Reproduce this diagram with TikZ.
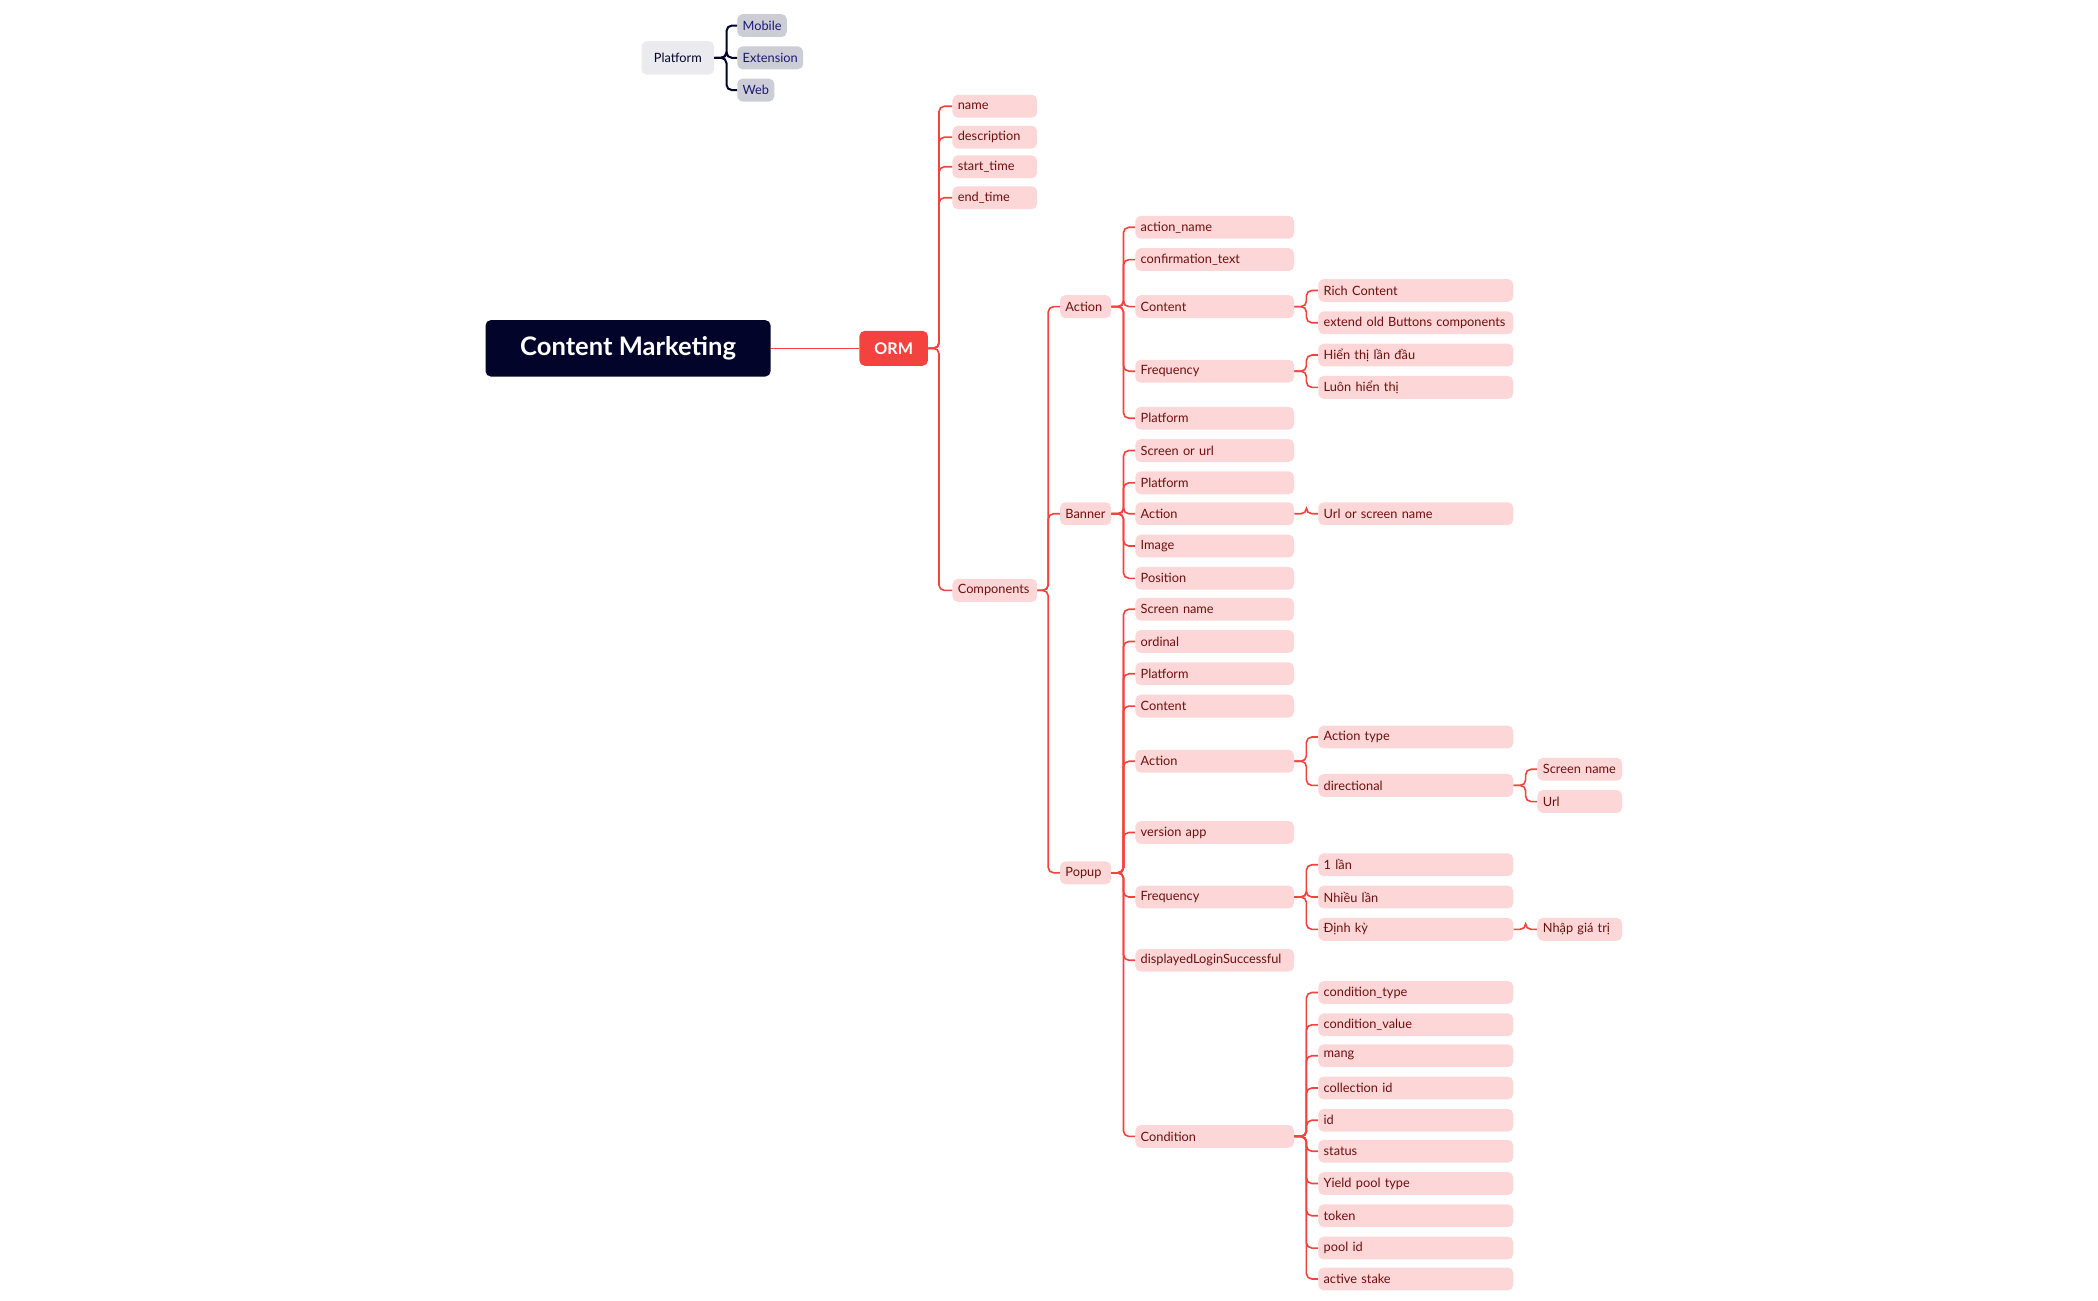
\documentclass[tikz,border=0pt]{standalone}
\usepackage{fontspec}
\setmainfont{Lato}
\definecolor{navy}{HTML}{02042A}
\definecolor{ormred}{HTML}{F4433F}
\definecolor{pinkfill}{HTML}{FDD7D7}
\definecolor{leaftext}{HTML}{6E0F0F}
\definecolor{greyfill}{HTML}{EBEAEE}
\definecolor{chipfill}{HTML}{CDCDD6}
\definecolor{chiptext}{HTML}{1A1870}
\tikzset{
  leaf/.style={fill=pinkfill, text=leaftext, rounded corners=4pt, anchor=west,
    inner xsep=4pt, inner ysep=0pt, minimum height=17pt, align=left,
    font=\fontsize{9.5}{11}\selectfont},
  lvla/.style={leaf, text width=55pt},
  lvlb/.style={leaf, text width=30pt},
  lvlc/.style={leaf, text width=110pt},
  lvld/.style={leaf, text width=137pt},
  lvle/.style={leaf, text width=55pt},
  link/.style={draw=ormred, line width=1.2pt, rounded corners=4pt},
  chip/.style={fill=chipfill, text=chiptext, rounded corners=4pt, anchor=west,
    inner xsep=4pt, inner ysep=0pt, minimum height=17pt, font=\fontsize{9.5}{11}\selectfont},
}
\newcommand\branch[3]{\draw[link] (#1.east) -- ++(#3,0) |- (#2.west);}
\begin{document}
\begin{tikzpicture}[x=1pt,y=-1pt]
\useasboundingbox (0,0) rectangle (1560,967);
% root and ORM
\node[fill=navy, text=white, rounded corners=4pt, minimum width=212pt, minimum height=42pt,
  font=\fontsize{19}{22}\bfseries\selectfont] (root) at (467,259) {Content Marketing};
\node[fill=ormred, text=white, rounded corners=4pt, minimum width=51pt, minimum height=26pt,
  font=\fontsize{12}{14}\bfseries\selectfont] (orm) at (664.5,259) {ORM};
\draw[link] (root.east) -- (orm.west);
% Platform legend
\node[fill=greyfill, text=navy, rounded corners=4pt, minimum width=54pt, minimum height=25pt,
  font=\fontsize{9.5}{11}\selectfont] (plat) at (504,43) {Platform};
\foreach \n/\y/\t in {mob/19/Mobile, ext/43/Extension, web/67/Web}{
  \node[chip] (\n) at (548,\y) {\t};
  \draw[draw=navy, line width=1.5pt, rounded corners=4pt] (plat.east) -- ++(9,0) |- (\n.west);
}
% ORM fields
\foreach \n/\y/\t in {fname/79/name, fdesc/102/description, fstart/124/start\_time,
  fend/147/end\_time, comp/439/Components}{
  \node[lvla] (\n) at (708,\y) {\t};
  \branch{orm}{\n}{8}
}
% components
\foreach \n/\y/\t in {act/228/Action, ban/382/Banner, pop/649/Popup}{
  \node[lvlb] (\n) at (788,\y) {\t};
  \branch{comp}{\n}{8}
}
% Action
\foreach \n/\y/\t in {aname/169/action\_name, aconf/193/confirmation\_text, acont/228/Content,
  afreq/276/Frequency, aplat/311/Platform}{
  \node[lvlc] (\n) at (844,\y) {\t};
  \branch{act}{\n}{9}
}
\foreach \n/\y/\t in {arich/216/Rich Content, aext/240/extend old Buttons components}{
  \node[lvld] (\n) at (980,\y) {\t};
  \branch{acont}{\n}{9}
}
\foreach \n/\y/\t in {afirst/264/Hiển thị lần đầu, aalw/288/Luôn hiển thị}{
  \node[lvld] (\n) at (980,\y) {\t};
  \branch{afreq}{\n}{9}
}
% Banner
\foreach \n/\y/\t in {bscr/335/Screen or url, bplat/359/Platform, bact/382/Action,
  bimg/406/Image, bpos/430/Position}{
  \node[lvlc] (\n) at (844,\y) {\t};
  \branch{ban}{\n}{9}
}
\node[lvld] (burl) at (980,382) {Url or screen name};
\branch{bact}{burl}{9}
% Popup
\foreach \n/\y/\t in {pscr/453/Screen name, pord/477/ordinal, pplat/501/Platform,
  pcont/525/Content, pact/566/Action, pver/619/version app, pfreq/667/Frequency,
  pdisp/714/displayedLoginSuccessful, pcond/845/Condition}{
  \node[lvlc] (\n) at (844,\y) {\t};
  \branch{pop}{\n}{9}
}
\foreach \n/\y/\t in {ptype/548/Action type, pdir/584/directional}{
  \node[lvld] (\n) at (980,\y) {\t};
  \branch{pact}{\n}{9}
}
\foreach \n/\y/\t in {dscr/572/Screen name, durl/596/Url}{
  \node[lvle] (\n) at (1143,\y) {\t};
  \branch{pdir}{\n}{9}
}
\foreach \n/\y/\t in {fone/643/1 lần, fmany/667/Nhiều lần, fper/691/Định kỳ}{
  \node[lvld] (\n) at (980,\y) {\t};
  \branch{pfreq}{\n}{9}
}
\node[lvle] (fval) at (1143,691) {Nhập giá trị};
\branch{fper}{fval}{9}
\foreach \n/\y/\t in {c1/738/condition\_type, c2/762/condition\_value, c3/785/mang,
  c4/809/collection id, c5/833/id, c6/856/status, c7/880/Yield pool type,
  c8/904/token, c9/928/pool id, c10/951/active stake}{
  \node[lvld] (\n) at (980,\y) {\t};
  \branch{pcond}{\n}{9}
}
\end{tikzpicture}
\end{document}
